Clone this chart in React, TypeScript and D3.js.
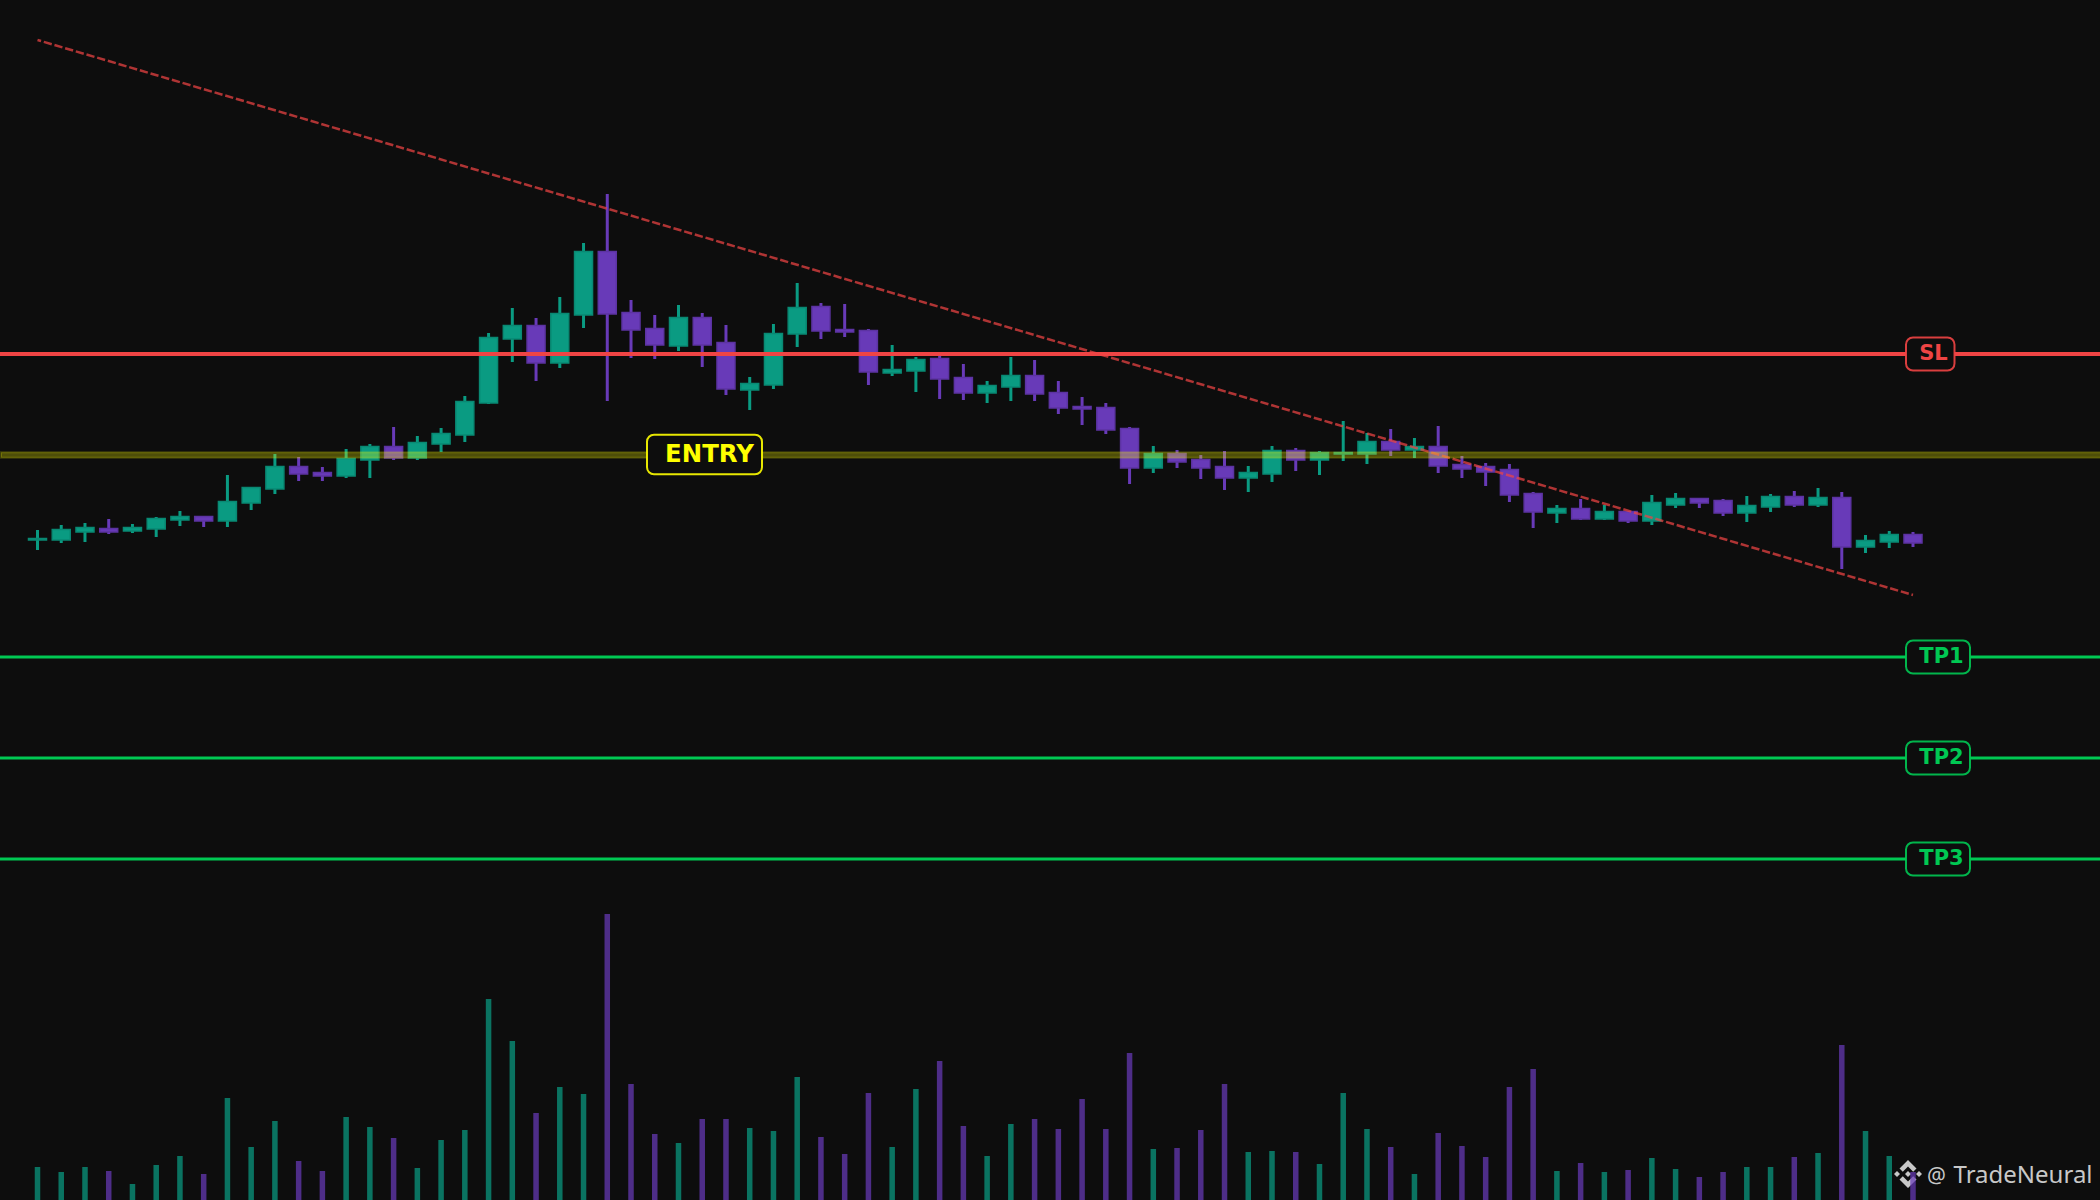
import * as d3 from "d3";
import { useEffect, useRef } from "react";

const opens = [
    0.914, 0.914, 0.922, 0.926, 0.923, 0.925, 0.934, 0.938, 0.933, 0.951,
    0.965, 0.988, 0.982, 0.978, 0.994, 1.008, 0.996, 1.01, 1.019, 1.051,
    1.115, 1.129, 1.091, 1.139, 1.203, 1.142, 1.126, 1.108, 1.137, 1.112,
    1.064, 1.069, 1.12, 1.148, 1.125, 1.124, 1.081, 1.083, 1.096, 1.077,
    1.061, 1.067, 1.079, 1.062, 1.048, 1.047, 1.026, 0.986, 1.001, 0.995,
    0.988, 0.976, 0.98, 1.004, 0.994, 1.0, 1.0, 1.013, 1.004, 1.008,
    0.99, 0.988, 0.985, 0.961, 0.941, 0.946, 0.935, 0.943, 0.933, 0.949,
    0.956, 0.954, 0.941, 0.947, 0.958, 0.949, 0.957, 0.907, 0.912, 0.92,
];
const closes = [
    0.916, 0.925, 0.927, 0.922, 0.927, 0.936, 0.938, 0.933, 0.953, 0.967,
    0.988, 0.98, 0.978, 0.996, 1.008, 0.996, 1.012, 1.021, 1.053, 1.117,
    1.129, 1.091, 1.141, 1.203, 1.14, 1.124, 1.109, 1.137, 1.109, 1.065,
    1.071, 1.121, 1.147, 1.123, 1.122, 1.082, 1.085, 1.095, 1.075, 1.061,
    1.069, 1.079, 1.06, 1.046, 1.045, 1.024, 0.986, 1.001, 0.992, 0.986,
    0.976, 0.982, 1.004, 0.994, 1.002, 1.002, 1.013, 1.004, 1.008, 0.988,
    0.985, 0.982, 0.959, 0.942, 0.946, 0.935, 0.943, 0.933, 0.952, 0.956,
    0.951, 0.941, 0.949, 0.958, 0.949, 0.957, 0.907, 0.914, 0.92, 0.911,
];
const highs = [
    0.924, 0.929, 0.931, 0.935, 0.93, 0.937, 0.943, 0.938, 0.979, 0.967,
    1.0, 0.997, 0.987, 1.005, 1.01, 1.027, 1.018, 1.026, 1.058, 1.121,
    1.146, 1.136, 1.157, 1.211, 1.26, 1.154, 1.139, 1.149, 1.141, 1.129,
    1.077, 1.13, 1.171, 1.151, 1.15, 1.125, 1.109, 1.097, 1.098, 1.09,
    1.073, 1.097, 1.094, 1.073, 1.057, 1.051, 1.027, 1.008, 1.004, 0.999,
    1.003, 0.988, 1.008, 1.006, 1.003, 1.033, 1.021, 1.025, 1.016, 1.028,
    0.998, 0.991, 0.99, 0.962, 0.949, 0.955, 0.949, 0.943, 0.959, 0.961,
    0.956, 0.955, 0.958, 0.96, 0.963, 0.966, 0.962, 0.919, 0.923, 0.922,
];
const lows = [
    0.904, 0.911, 0.912, 0.92, 0.921, 0.917, 0.928, 0.927, 0.927, 0.944,
    0.96, 0.973, 0.973, 0.976, 0.976, 0.994, 0.994, 1.002, 1.012, 1.05,
    1.092, 1.073, 1.086, 1.126, 1.053, 1.096, 1.095, 1.103, 1.087, 1.059,
    1.044, 1.065, 1.107, 1.115, 1.117, 1.069, 1.078, 1.062, 1.055, 1.054,
    1.051, 1.053, 1.053, 1.04, 1.029, 1.02, 0.97, 0.981, 0.986, 0.975,
    0.964, 0.962, 0.972, 0.983, 0.979, 0.993, 0.99, 0.998, 0.996, 0.981,
    0.976, 0.968, 0.952, 0.926, 0.931, 0.934, 0.934, 0.931, 0.929, 0.946,
    0.946, 0.938, 0.932, 0.942, 0.947, 0.947, 0.885, 0.901, 0.906, 0.907,
];
const volumes = [
    33, 28, 33, 29, 16, 35, 44, 26, 102, 53,
    79, 39, 29, 83, 73, 62, 32, 60, 70, 201,
    159, 87, 113, 106, 286, 116, 66, 57, 81, 81,
    72, 69, 123, 63, 46, 107, 53, 111, 139, 74,
    44, 76, 81, 71, 101, 71, 147, 51, 52, 70,
    116, 48, 49, 48, 36, 107, 71, 53, 26, 67,
    54, 43, 113, 131, 29, 37, 28, 30, 42, 31,
    23, 28, 33, 33, 43, 47, 155, 69, 44, 28,
];

const entryPrice = 0.9995;
const slPrice = 1.1;
const tpPrices = [0.797, 0.696, 0.595];
const tpLabels = ["TP1", "TP2", "TP3"];
const trendIndex = [0, 79];
const trendPrice = [1.414, 0.859];

const BG = "#0d0d0d";
const UP = "#0a9b82";
const DOWN = "#683ab8";
const RED = "#ef4444";
const GREEN = "#00c853";
const YELLOW = "#ffff00";
const MARK = "#c8c8c8";

export default function App() {
    const ref = useRef<SVGSVGElement | null>(null);

    useEffect(() => {
        if (!ref.current) return;
        document.body.style.margin = "0";
        document.body.style.background = BG;

        const width = 2100;
        const height = 1200;

        const svg = d3.select(ref.current);
        svg.selectAll("*").remove();

        const x = d3.scaleLinear().domain([0, 79]).range([37.5, 1913]);
        const y = d3.scaleLinear().domain([0.595, 1.1]).range([859, 354]);
        const v = d3.scaleLinear().domain([0, 286]).range([height, 914]);

        const bars = d3.range(opens.length);
        const colorOf = (i: number) => (closes[i] >= opens[i] ? UP : DOWN);

        svg.append("rect").attr("width", width).attr("height", height).attr("fill", BG);

        // Watermark sits under the volume bars
        const mark = svg.append("g");
        const logo = mark.append("g").attr("transform", "translate(1908,1174)").attr("fill", MARK);
        logo.append("path").attr("d", "M0,-14 L8.5,-5.5 L5.2,-2.2 L0,-7.4 L-5.2,-2.2 L-8.5,-5.5 Z");
        logo.append("path").attr("d", "M0,14 L8.5,5.5 L5.2,2.2 L0,7.4 L-5.2,2.2 L-8.5,5.5 Z");
        logo.append("path").attr("d", "M-14,0 L-11,-3 L-8,0 L-11,3 Z");
        logo.append("path").attr("d", "M14,0 L11,-3 L8,0 L11,3 Z");
        logo.append("path").attr("d", "M0,-3 L3,0 L0,3 L-3,0 Z");
        mark.append("text")
            .attr("x", 1927)
            .attr("y", 1182.5)
            .attr("font-family", "'Noto Sans', sans-serif")
            .attr("font-size", 21)
            .attr("fill", MARK)
            .text("@");
        mark.append("text")
            .attr("x", 1953.5)
            .attr("y", 1182.5)
            .attr("font-family", "'Noto Sans', sans-serif")
            .attr("font-size", 24)
            .attr("fill", MARK)
            .text("TradeNeural");

        // Volume
        svg.append("g")
            .selectAll("rect")
            .data(bars)
            .join("rect")
            .attr("x", (i) => x(i) - 2.75)
            .attr("y", (i) => v(volumes[i]))
            .attr("width", 5.5)
            .attr("height", (i) => height - v(volumes[i]))
            .attr("fill", colorOf)
            .attr("fill-opacity", 0.72);

        // Wicks
        svg.append("g")
            .selectAll("line")
            .data(bars)
            .join("line")
            .attr("x1", (i) => x(i))
            .attr("x2", (i) => x(i))
            .attr("y1", (i) => y(highs[i]))
            .attr("y2", (i) => y(lows[i]))
            .attr("stroke", colorOf)
            .attr("stroke-width", 3);

        // Bodies
        svg.append("g")
            .selectAll("rect")
            .data(bars)
            .join("rect")
            .attr("x", (i) => x(i) - 9)
            .attr("y", (i) => y(Math.max(opens[i], closes[i])) + 0.5)
            .attr("width", 18)
            .attr("height", (i) => Math.max(1, Math.abs(y(opens[i]) - y(closes[i])) - 0.5))
            .attr("fill", colorOf)
            .attr("stroke", (i) => d3.color(colorOf(i))!.darker(0.35).formatHex())
            .attr("stroke-width", 1.5);

        // Trend line
        svg.append("path")
            .attr("d", d3.line<number>().x((d) => x(d)).y((_, i) => y(trendPrice[i]))(trendIndex))
            .attr("fill", "none")
            .attr("stroke", RED)
            .attr("stroke-opacity", 0.72)
            .attr("stroke-width", 2.5)
            .attr("stroke-dasharray", "8.3 2.83")
            .attr("stroke-dashoffset", 4.56);

        // Entry band
        svg.append("rect")
            .attr("x", 1)
            .attr("y", y(entryPrice) - 2.2)
            .attr("width", width)
            .attr("height", 5.4)
            .attr("fill", YELLOW)
            .attr("fill-opacity", 0.27)
            .attr("stroke", YELLOW)
            .attr("stroke-opacity", 0.2)
            .attr("stroke-width", 2);

        // Level lines
        const levels = [
            { price: slPrice, color: RED, w: 4 },
            ...tpPrices.map((price) => ({ price, color: GREEN, w: 3 })),
        ];
        svg.append("g")
            .selectAll("line")
            .data(levels)
            .join("line")
            .attr("x1", 0)
            .attr("x2", width)
            .attr("y1", (d) => y(d.price))
            .attr("y2", (d) => y(d.price))
            .attr("stroke", (d) => d.color)
            .attr("stroke-width", (d) => d.w);

        // Labels
        const labels = [
            { text: "ENTRY", price: entryPrice, color: YELLOW, bx: 647, bw: 115, bh: 39.5, tx: 709.5, size: 24.4, dy: 7.4 },
            { text: "SL", price: slPrice, color: RED, bx: 1906, bw: 48.5, bh: 33, tx: 1933.5, size: 21, dy: 6 },
            ...tpLabels.map((text, i) => ({
                text,
                price: tpPrices[i],
                color: GREEN,
                bx: 1906,
                bw: 64,
                bh: 33,
                tx: 1941.5,
                size: 21,
                dy: 5.5,
            })),
        ];
        const label = svg.append("g").selectAll("g").data(labels).join("g");
        label
            .append("rect")
            .attr("x", (d) => d.bx)
            .attr("y", (d) => y(d.price) - d.bh / 2)
            .attr("width", (d) => d.bw)
            .attr("height", (d) => d.bh)
            .attr("rx", 7)
            .attr("fill", BG)
            .attr("stroke", (d) => d.color)
            .attr("stroke-opacity", 0.9)
            .attr("stroke-width", 2);
        label
            .append("text")
            .attr("x", (d) => d.tx)
            .attr("y", (d) => y(d.price) + d.dy)
            .attr("text-anchor", "middle")
            .attr("font-family", "'DejaVu Sans', sans-serif")
            .attr("font-weight", "bold")
            .attr("font-size", (d) => d.size)
            .attr("fill", (d) => d.color)
            .text((d) => d.text);
    }, []);

    return <svg ref={ref} width={2100} height={1200} style={{ display: "block" }}></svg>;
}
